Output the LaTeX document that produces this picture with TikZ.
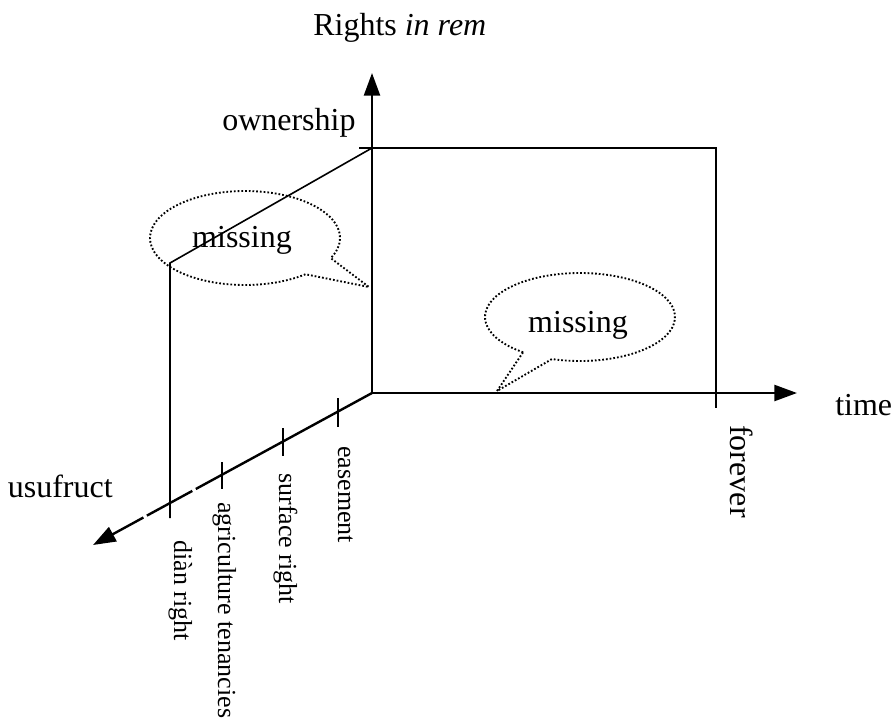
\documentclass[tikz,border=0pt]{standalone}
\usepackage{fontspec}
\setmainfont{Liberation Serif}
\usetikzlibrary{arrows.meta,calc}
\begin{document}
\begin{tikzpicture}[x=0.75pt,y=-0.75pt,
  axis/.style={line width=1.8pt},
  arrowaxis/.style={axis,-{Triangle[length=17pt,width=12pt]}},
  guide/.style={line width=1.2pt},
  bubble/.style={line width=1.4pt,dash pattern=on 1.3pt off 1.5pt},
  big/.style={font=\fontsize{24}{28}\selectfont,inner sep=0pt},
  small/.style={font=\fontsize{19.5}{23}\selectfont,inner sep=0pt,rotate=-90,anchor=base west},
]
\useasboundingbox (0,0) rectangle (895,725);

% axes
\coordinate (O) at (372,393);
\coordinate (Vtip) at (372,73);
\coordinate (Htip) at (797,393);
\coordinate (Dtip) at (93,545);
\coordinate (G1a) at (195.8,489.0);
\coordinate (G1b) at (192.3,490.9);
\coordinate (G2a) at (146.9,515.6);
\coordinate (G2b) at (143.4,517.5);

\draw[arrowaxis] (O) -- (Vtip);
\draw[arrowaxis] (O) -- (Htip);
\draw[axis] (O) -- (G1a);
\draw[axis] (G1b) -- (G2a);
\draw[arrowaxis] (G2b) -- (Dtip);

% ownership frame
\coordinate (T) at (372,148);
\coordinate (Tl) at (359,148);
\coordinate (Rt) at (716,148);
\coordinate (Rb) at (716,408);
\coordinate (Ltop) at (170,263);
\coordinate (Lbot) at (170,518);
\draw[guide] (Tl) -- (Rt) -- (Rb);
\draw[guide] (T) -- (Ltop) -- (Lbot);

% ticks on the usufruct axis
\coordinate (E1) at (338,398); \coordinate (E2) at (338,427);
\coordinate (S1) at (283,428); \coordinate (S2) at (283,456);
\coordinate (A1) at (222,462); \coordinate (A2) at (222,489);
\draw[guide] (E1) -- (E2);
\draw[guide] (S1) -- (S2);
\draw[guide] (A1) -- (A2);

% speech bubbles
\coordinate (LB) at (245,238);
\coordinate (Ltail) at (369,287);
\draw[bubble] ($(LB)+(50.5:95 and 47)$) arc[start angle=50.5,end angle=385.4,x radius=95,y radius=47] -- (Ltail) -- cycle;
\coordinate (RB) at (580,317);
\coordinate (Rtail) at (497,391);
\draw[bubble] ($(RB)+(126.8:95 and 44)$) arc[start angle=126.8,end angle=467.2,x radius=95,y radius=44] -- (Rtail) -- cycle;

% labels
\node[big,anchor=base west] (rights) at (313,35) {Rights \textit{in rem}};
\node[big,anchor=base west] (own) at (222,130) {ownership};
\node[big,anchor=base east] (usu) at (113,497) {usufruct};
\node[big,anchor=base west] (time) at (835,415) {time};
\node[big,rotate=-90,anchor=base west] (forever) at (730,425) {forever};
\node[small] (eas) at (338,446) {easement};
\node[small] (surf) at (279,473) {surface right};
\node[small] (agri) at (218,502) {agriculture tenancies};
\node[small] (dian) at (174,540) {diàn right};
\node[big,anchor=base] (m1) at (242,247) {missing};
\node[big,anchor=base] (m2) at (578,332) {missing};
\end{tikzpicture}
\end{document}
